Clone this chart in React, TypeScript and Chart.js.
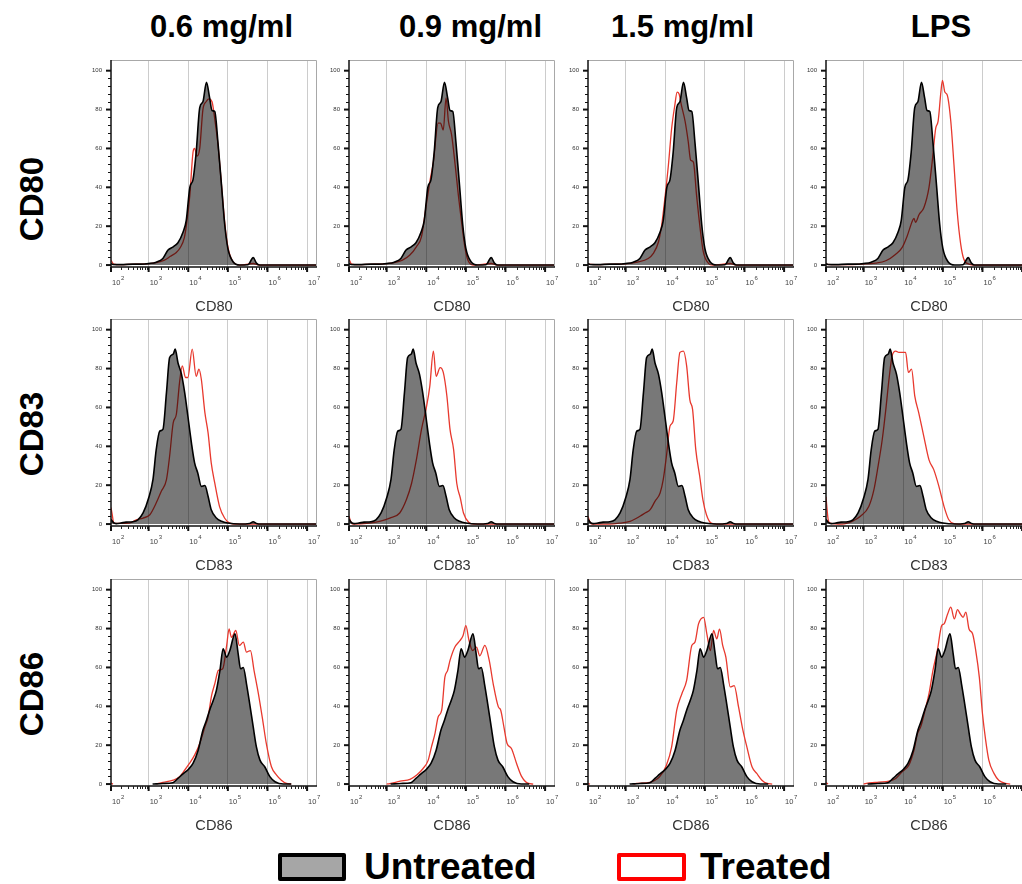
import React, { useEffect, useRef } from "react";
import { Chart, registerables } from "chart.js";

Chart.register(...registerables);

type Pt = [number, number | null];

// ---------- labels ----------
const columnTitles = ["0.6 mg/ml", "0.9 mg/ml", "1.5 mg/ml", "LPS"];
const markers = ["CD80", "CD83", "CD86"];
const legendLabels = ["Untreated", "Treated"];
const decadeTicks = [2, 3, 4, 5, 6, 7]; // log10 of fluorescence
const yTickValues = [0, 20, 40, 60, 80, 100];

// ---------- data: [log10(intensity), count] ----------
const cd80Untreated: Pt[] = [
  [2.05, 0.8], [2.1, 0.3], [2.3, 0.2], [2.6, 0.5], [2.8, 0.5], [3.0, 0.8], [3.19, 1.5], [3.36, 3.4],
  [3.49, 7.7], [3.62, 9.4], [3.74, 11.5], [3.87, 17], [3.95, 23], [4.04, 40], [4.12, 44], [4.2, 58],
  [4.29, 81], [4.37, 84], [4.46, 94], [4.54, 86], [4.6, 79.5], [4.67, 79], [4.75, 63], [4.84, 41],
  [4.92, 21], [5.0, 8.6], [5.13, 1.7], [5.3, 0], [5.51, 0.2], [5.64, 3.8], [5.72, 1], [5.8, 0], [7.25, 0],
];
const cd80Treated06: Pt[] = [
  [2.05, 2.5], [2.12, 0.5], [2.3, 0.2], [2.6, 0.4], [2.8, 0.5], [3.0, 0.7], [3.2, 1.2], [3.4, 2.5],
  [3.55, 4.5], [3.7, 6.5], [3.8, 9], [3.9, 14], [3.95, 20], [4.04, 36], [4.12, 58], [4.16, 60],
  [4.22, 56], [4.29, 60], [4.37, 80], [4.45, 84], [4.52, 85.5], [4.6, 84], [4.67, 75], [4.75, 62],
  [4.84, 41], [4.92, 22], [5.0, 9.4], [5.13, 1.7], [5.3, 0], [5.64, 0.8], [5.8, 0], [7.25, 0],
];
const cd80Treated09: Pt[] = [
  [2.05, 3], [2.12, 0.5], [2.3, 0.2], [2.6, 0.4], [2.8, 0.5], [3.0, 0.7], [3.2, 1.2], [3.4, 2.5],
  [3.58, 5], [3.75, 9.4], [3.88, 14.6], [4.0, 30.9], [4.1, 44], [4.18, 53], [4.3, 73], [4.36, 73],
  [4.43, 69.5], [4.5, 86], [4.56, 74], [4.64, 67], [4.73, 51.5], [4.81, 36], [4.9, 20.6], [4.98, 8.6],
  [5.07, 1.7], [5.2, 0], [5.64, 0.8], [5.8, 0], [7.25, 0],
];
const cd80Treated15: Pt[] = [
  [2.05, 0.5], [2.3, 0.2], [2.6, 0.4], [3.0, 0.6], [3.3, 1.5], [3.57, 3.4], [3.7, 6], [3.83, 12],
  [3.91, 20.6], [4.0, 36], [4.08, 51.5], [4.16, 70], [4.24, 82], [4.3, 89], [4.35, 88], [4.41, 82],
  [4.5, 74], [4.58, 63.5], [4.64, 54], [4.71, 53], [4.79, 36], [4.88, 19], [4.96, 6.9], [5.09, 0.9],
  [5.2, 0], [5.64, 0.8], [5.8, 0], [7.25, 0],
];
const cd80TreatedLPS: Pt[] = [
  [2.05, 0.3], [2.5, 0.2], [2.97, 0.5], [3.3, 1], [3.56, 2.2], [3.81, 5.6], [3.97, 9], [4.1, 15],
  [4.23, 22.7], [4.27, 24], [4.31, 22], [4.4, 26], [4.52, 29.5], [4.65, 40], [4.73, 53], [4.82, 70.5],
  [4.88, 74], [4.95, 89], [4.99, 95], [5.05, 89], [5.11, 87.5], [5.2, 74], [5.28, 51.7], [5.36, 27.8],
  [5.45, 10.8], [5.53, 3], [5.66, 0.5], [5.8, 0], [7.25, 0],
];

const cd83Untreated: Pt[] = [
  [2.05, 2.5], [2.1, 1], [2.18, 0.2], [2.3, 0.5], [2.43, 1], [2.6, 1.2], [2.73, 2.2], [2.86, 5.7],
  [3.0, 13.4], [3.11, 23], [3.19, 38], [3.28, 47.8], [3.36, 48.7], [3.45, 67.6], [3.53, 85.7],
  [3.62, 87.4], [3.67, 90], [3.74, 83], [3.83, 77], [3.91, 67.6], [3.99, 55.6], [4.08, 41.8],
  [4.16, 31.5], [4.24, 26.3], [4.33, 19.4], [4.42, 19.8], [4.5, 14.3], [4.58, 7.4], [4.71, 3.1],
  [4.84, 1.4], [5.0, 0.5], [5.3, 0], [5.55, 0.3], [5.64, 1.2], [5.72, 0.3], [5.85, 0], [7.25, 0],
];
const cd83Treated06: Pt[] = [
  [2.05, 8.5], [2.08, 5], [2.12, 0.5], [2.3, 0.3], [2.52, 0.5], [2.69, 2.2], [2.86, 3.1], [3.03, 4.8],
  [3.19, 10.8], [3.32, 16.9], [3.45, 22.9], [3.53, 35], [3.62, 52], [3.7, 56.5], [3.78, 72.8],
  [3.85, 81.4], [3.93, 75.4], [3.99, 75.4], [4.1, 90], [4.2, 76], [4.27, 79.7], [4.33, 74.5],
  [4.42, 57.3], [4.5, 47], [4.58, 31.5], [4.67, 21], [4.79, 9], [4.92, 3], [5.05, 0.5], [5.2, 0], [7.25, 0],
];
const cd83Treated09: Pt[] = [
  [2.05, 4], [2.1, 1], [2.15, 0], [2.57, 0.5], [2.82, 1.4], [3.08, 3.1], [3.33, 5.7], [3.5, 12.6],
  [3.63, 21], [3.75, 33], [3.88, 48.7], [4.01, 60.8], [4.09, 71], [4.18, 89], [4.25, 76], [4.35, 80.5],
  [4.43, 78], [4.52, 66], [4.6, 48.7], [4.69, 38.4], [4.77, 21], [4.86, 13.4], [4.94, 5.7], [5.07, 0.9],
  [5.2, 0], [7.25, 0],
];
const cd83Treated15: Pt[] = [
  [2.05, 4], [2.1, 1], [2.15, 0], [2.6, 0], [2.86, 0.5], [3.11, 1.4], [3.36, 4], [3.49, 5.7],
  [3.62, 7.4], [3.74, 11.7], [3.87, 16], [3.95, 23], [4.03, 35], [4.12, 50.4], [4.2, 53], [4.29, 72.8],
  [4.37, 88.3], [4.46, 89], [4.54, 81.4], [4.62, 64], [4.69, 59], [4.77, 38.4], [4.87, 24.6],
  [4.95, 12.6], [5.04, 4.8], [5.16, 0.5], [5.3, 0], [7.25, 0],
];
const cd83TreatedLPS: Pt[] = [
  [2.05, 14], [2.1, 3], [2.15, 0.5], [2.46, 0], [2.71, 1.4], [2.92, 4], [3.13, 9], [3.26, 17.7],
  [3.35, 28], [3.47, 43.5], [3.56, 59], [3.64, 74.5], [3.72, 86.6], [3.81, 89], [3.89, 88.3],
  [3.97, 88.3], [4.06, 88.3], [4.13, 78], [4.21, 79.7], [4.29, 66], [4.39, 57.3], [4.52, 45],
  [4.65, 33], [4.77, 28], [4.9, 19.4], [5.03, 9], [5.15, 2.2], [5.28, 0.2], [5.4, 0], [7.25, 0],
];

const cd86Untreated: Pt[] = [
  [3.1, 0], [3.36, 0.3], [3.61, 0.7], [3.74, 2.9], [3.86, 5.1], [4.0, 7.5], [4.12, 10.6], [4.25, 17.4],
  [4.37, 27.7], [4.46, 32.8], [4.54, 38], [4.63, 43], [4.71, 48.2], [4.8, 58.5], [4.88, 69.6],
  [4.97, 65.3], [5.05, 68.7], [5.18, 77.3], [5.26, 67], [5.32, 59.3], [5.39, 60], [5.47, 51.6],
  [5.55, 41.4], [5.64, 29.4], [5.72, 19.1], [5.81, 12.3], [5.93, 8.9], [6.06, 3.8], [6.19, 1.2],
  [6.4, 0], [6.6, 0],
];
const cd86Treated06: Pt[] = [
  [2.05, 0.5], [2.1, 0], [2.12, null], [3.2, 0], [3.36, 0.9], [3.62, 2], [3.78, 3.8], [3.91, 7.2],
  [4.03, 10.6], [4.16, 14.9], [4.29, 20.9], [4.42, 29.4], [4.5, 34.5], [4.59, 45.6], [4.67, 51.6],
  [4.76, 58.5], [4.87, 59.3], [4.97, 71.3], [5.03, 79.8], [5.09, 75.5], [5.2, 79], [5.29, 71.3],
  [5.39, 73], [5.47, 67.9], [5.57, 68.7], [5.66, 58.5], [5.77, 46.5], [5.88, 32.8], [5.97, 20.9],
  [6.1, 8.9], [6.23, 4.6], [6.35, 2], [6.48, 0.3], [6.6, 0],
];
const cd86Treated09: Pt[] = [
  [3.0, 0], [3.08, 0.2], [3.34, 1.5], [3.59, 2.4], [3.76, 4.6], [3.92, 8], [4.05, 12.3], [4.13, 19],
  [4.22, 26], [4.3, 34.5], [4.39, 38], [4.47, 55], [4.54, 58.5], [4.6, 63.6], [4.72, 70.4], [4.85, 73.8],
  [4.93, 76.4], [5.0, 81.5], [5.08, 73.8], [5.17, 68.7], [5.27, 70.4], [5.35, 66], [5.48, 71.3],
  [5.59, 63.6], [5.69, 51.6], [5.82, 39.7], [5.88, 38], [5.96, 29.4], [6.04, 20.9], [6.15, 18.3],
  [6.28, 10.6], [6.41, 3.8], [6.58, 0.3], [6.7, 0],
];
const cd86Treated15: Pt[] = [
  [2.05, 0.3], [2.1, 0], [2.12, null], [3.2, 0], [3.27, 0.3], [3.61, 0.9], [3.86, 3.8], [4.03, 9.7],
  [4.16, 19], [4.29, 38], [4.42, 46.5], [4.54, 53.3], [4.67, 71.3], [4.75, 73], [4.84, 82.4],
  [4.97, 85.8], [5.05, 77.3], [5.14, 68.7], [5.22, 79], [5.3, 74.7], [5.37, 79.7], [5.45, 71.3],
  [5.53, 65.3], [5.64, 50], [5.74, 50.6], [5.85, 39.7], [5.96, 27.7], [6.06, 19.1], [6.19, 8.9],
  [6.31, 5.5], [6.44, 2], [6.57, 0.3], [6.7, 0],
];
const cd86TreatedLPS: Pt[] = [
  [2.05, 0.7], [2.1, 0], [2.12, null], [3.0, 0], [3.04, 0.2], [3.38, 1], [3.64, 1.5], [3.81, 2.9],
  [3.97, 6.3], [4.14, 9.7], [4.27, 17.4], [4.36, 26], [4.44, 29.4], [4.55, 38], [4.65, 46.5],
  [4.75, 58.5], [4.86, 68.7], [4.97, 81.5], [5.03, 82.4], [5.12, 87.5], [5.2, 91], [5.29, 85],
  [5.37, 89.7], [5.44, 87.5], [5.51, 85.8], [5.58, 88.5], [5.66, 79.8], [5.75, 77.3], [5.83, 68.7],
  [5.92, 55], [6.0, 36.2], [6.08, 22.6], [6.16, 12.3], [6.29, 5.5], [6.41, 2], [6.58, 0.3], [6.7, 0],
];

const untreatedByRow = [cd80Untreated, cd83Untreated, cd86Untreated];
const treatedByRow = [
  [cd80Treated06, cd80Treated09, cd80Treated15, cd80TreatedLPS],
  [cd83Treated06, cd83Treated09, cd83Treated15, cd83TreatedLPS],
  [cd86Treated06, cd86Treated09, cd86Treated15, cd86TreatedLPS],
];

// ---------- layout ----------
const X_MIN = 2.05;
const X_MAX = 7.25;
const Y_MIN = -1;
const Y_MAX = 105.5;
const PLOT_LEFTS = [111, 349, 588, 826];
const PLOT_TOPS = [60, 319, 579];
const PLOT_W = 206;
const PLOT_H = 207;
const AXIS_W = 34;
const PAD_TOP = 4;
const PAD_RIGHT = 4;
const XAXIS_H = 56;
const FONT = '"Liberation Sans", Arial, Helvetica, sans-serif';

function makeAxesPlugin(marker: string) {
  return {
    id: "facsAxes",
    afterDatasetsDraw(chart: any) {
      const { ctx, chartArea: a } = chart;
      const xs = chart.scales.x;
      const ys = chart.scales.y;
      ctx.save();
      // light frame (top/right)
      ctx.strokeStyle = "#a8a8a8";
      ctx.lineWidth = 1;
      ctx.beginPath();
      ctx.moveTo(a.left, a.top + 0.5);
      ctx.lineTo(a.right - 0.5, a.top + 0.5);
      ctx.lineTo(a.right - 0.5, a.bottom);
      ctx.stroke();
      // axis lines
      ctx.strokeStyle = "#111";
      ctx.lineWidth = 1.5;
      ctx.beginPath();
      ctx.moveTo(a.left, a.top);
      ctx.lineTo(a.left, a.bottom);
      ctx.lineTo(a.right, a.bottom);
      ctx.stroke();
      // x major ticks + labels
      ctx.fillStyle = "#444";
      for (const d of decadeTicks) {
        const v = Math.max(d, X_MIN);
        if (v > X_MAX) continue;
        const px = xs.getPixelForValue(v);
        ctx.strokeStyle = "#111";
        ctx.lineWidth = 2;
        ctx.beginPath();
        ctx.moveTo(px, a.bottom);
        ctx.lineTo(px, a.bottom + 5);
        ctx.stroke();
        ctx.textAlign = "left";
        ctx.textBaseline = "middle";
        ctx.font = `7.5px ${FONT}`;
        ctx.fillText("10", px + 1, a.bottom + 16);
        ctx.font = `6px ${FONT}`;
        ctx.fillText(String(d), px + 10, a.bottom + 11.5);
      }
      // x minor ticks
      ctx.lineWidth = 1;
      ctx.strokeStyle = "#222";
      for (const d of decadeTicks) {
        for (let k = 2; k <= 9; k++) {
          const v = d + Math.log10(k);
          if (v <= X_MIN || v >= X_MAX) continue;
          const px = Math.round(xs.getPixelForValue(v)) + 0.5;
          ctx.beginPath();
          ctx.moveTo(px, a.bottom);
          ctx.lineTo(px, a.bottom + 3);
          ctx.stroke();
        }
      }
      // y ticks + labels
      for (let v = 0; v <= 100; v += 4) {
        const py = ys.getPixelForValue(v);
        const major = yTickValues.includes(v);
        ctx.strokeStyle = "#111";
        ctx.lineWidth = major ? 2 : 1;
        const yy = major ? py : Math.round(py) + 0.5;
        ctx.beginPath();
        ctx.moveTo(a.left, yy);
        ctx.lineTo(a.left - (major ? 5 : 3), yy);
        ctx.stroke();
        if (major) {
          ctx.fillStyle = "#333";
          ctx.font = `6px ${FONT}`;
          ctx.textAlign = "right";
          ctx.textBaseline = "middle";
          ctx.fillText(String(v), a.left - 9, py);
        }
      }
      // axis title
      ctx.fillStyle = "#333";
      ctx.font = `14.6px ${FONT}`;
      ctx.textAlign = "center";
      ctx.textBaseline = "middle";
      ctx.fillText(marker, (a.left + a.right) / 2, a.bottom + 40);
      ctx.restore();
    },
  };
}

function Panel({ row, col }: { row: number; col: number }) {
  const ref = useRef<HTMLCanvasElement | null>(null);
  const width = AXIS_W + PLOT_W + PAD_RIGHT;
  const height = PAD_TOP + PLOT_H + XAXIS_H;
  const left = PLOT_LEFTS[col] - AXIS_W;
  const top = PLOT_TOPS[row] - PAD_TOP;

  useEffect(() => {
    const canvas = ref.current;
    if (!canvas) return;
    const toXY = (pts: Pt[]) => pts.map(([x, y]) => ({ x, y }));
    const chart = new Chart(canvas, {
      type: "line",
      data: {
        datasets: [
          {
            label: legendLabels[0],
            data: toXY(untreatedByRow[row]) as any,
            borderColor: "#000000",
            borderWidth: 1.6,
            backgroundColor: "rgba(0,0,0,0.53)",
            fill: "origin",
            pointRadius: 0,
            cubicInterpolationMode: "monotone",
            spanGaps: false,
          },
          {
            label: legendLabels[1],
            data: toXY(treatedByRow[row][col]) as any,
            borderColor: "#e8392e",
            borderWidth: 1.3,
            fill: false,
            pointRadius: 0,
            cubicInterpolationMode: "monotone",
            spanGaps: false,
          },
        ],
      },
      options: {
        animation: false,
        responsive: false,
        devicePixelRatio: 1,
        events: [],
        layout: { padding: { left: 0, top: PAD_TOP, right: PAD_RIGHT, bottom: 0 } },
        plugins: { legend: { display: false }, tooltip: { enabled: false } },
        scales: {
          x: {
            type: "linear",
            min: X_MIN,
            max: X_MAX,
            ticks: { display: false },
            border: { display: false },
            grid: { drawTicks: false, color: "#cccccc", lineWidth: 1 },
            afterBuildTicks: (s: any) => {
              s.ticks = decadeTicks.filter((d) => d > X_MIN && d < X_MAX).map((v) => ({ value: v }));
            },
            afterFit: (s: any) => {
              s.height = XAXIS_H;
            },
          },
          y: {
            type: "linear",
            min: Y_MIN,
            max: Y_MAX,
            ticks: { display: false },
            border: { display: false },
            grid: { display: false },
            afterFit: (s: any) => {
              s.width = AXIS_W;
            },
          },
        },
      } as any,
      plugins: [makeAxesPlugin(markers[row])],
    });
    return () => chart.destroy();
  }, [row, col]);

  return (
    <canvas
      ref={ref}
      width={width}
      height={height}
      style={{ position: "absolute", left, top, width, height }}
    />
  );
}

const titleCenters = [221.5, 470.5, 682.5, 941];
const rowLabelCenters = [198.5, 434, 693.5];

export default function App() {
  const panels: React.ReactNode[] = [];
  for (let r = 0; r < 3; r++) {
    for (let c = 0; c < 4; c++) {
      panels.push(<Panel key={`${r}-${c}`} row={r} col={c} />);
    }
  }
  return (
    <div
      style={{
        position: "fixed",
        left: 0,
        top: 0,
        width: 1022,
        height: 884,
        overflow: "hidden",
        background: "#ffffff",
        fontFamily: FONT,
        color: "#000",
      }}
    >
      {columnTitles.map((t, i) => (
        <div
          key={t}
          style={{
            position: "absolute",
            left: titleCenters[i],
            top: 11,
            transform: "translateX(-50%)",
            font: `bold 31px/31px ${FONT}`,
            whiteSpace: "nowrap",
          }}
        >
          {t}
        </div>
      ))}
      {markers.map((m, i) => (
        <div
          key={m}
          style={{
            position: "absolute",
            left: 31,
            top: rowLabelCenters[i],
            transform: "translate(-50%, -50%) rotate(-90deg)",
            font: `bold 33px/33px ${FONT}`,
            whiteSpace: "nowrap",
          }}
        >
          {m}
        </div>
      ))}
      {panels}
      <div
        style={{
          position: "absolute",
          left: 278,
          top: 853,
          width: 68,
          height: 28,
          boxSizing: "border-box",
          border: "4px solid #000",
          borderRadius: 2,
          background: "#a6a6a6",
        }}
      />
      <div
        style={{
          position: "absolute",
          left: 364,
          top: 848,
          font: `bold 37px/37px ${FONT}`,
          whiteSpace: "nowrap",
        }}
      >
        {legendLabels[0]}
      </div>
      <div
        style={{
          position: "absolute",
          left: 617,
          top: 853,
          width: 69,
          height: 28,
          boxSizing: "border-box",
          border: "4px solid #ff0000",
          borderRadius: 2,
          background: "#ffffff",
        }}
      />
      <div
        style={{
          position: "absolute",
          left: 700,
          top: 848,
          font: `bold 37px/37px ${FONT}`,
          whiteSpace: "nowrap",
        }}
      >
        {legendLabels[1]}
      </div>
    </div>
  );
}
